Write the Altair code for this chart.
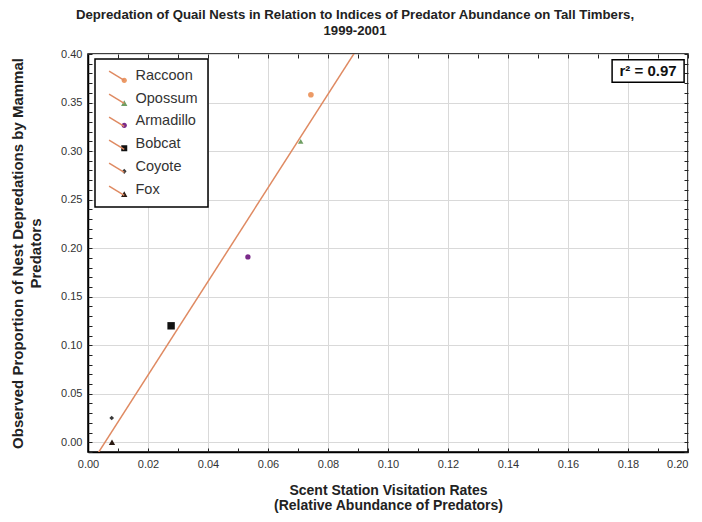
import altair as alt
import pandas as pd

# ---- data ----
species = ["Raccoon", "Opossum", "Armadillo", "Bobcat", "Coyote", "Fox"]
visitation = [0.0743, 0.0709, 0.0533, 0.0277, 0.0079, 0.0080]
depredation = [0.358, 0.310, 0.191, 0.120, 0.025, 0.000]
colors = ["#ec9a66", "#6f9e63", "#7a2a8a", "#111111", "#3a3a3a", "#2a1a12"]
plot_shapes = ["circle", "triangle-up", "circle", "square", "diamond", "triangle-up"]
marker_sizes = [32, 30, 28, 55, 22, 40]

x_ticks = [0.00, 0.02, 0.04, 0.06, 0.08, 0.10, 0.12, 0.14, 0.16, 0.18, 0.20]
y_ticks = [0.00, 0.05, 0.10, 0.15, 0.20, 0.25, 0.30, 0.35, 0.40]
x_minor = [round(i * 0.01, 2) for i in range(0, 21)]
y_minor = [round(i * 0.01, 2) for i in range(-1, 41)]

r2_text = ["r\u00b2 = 0.97"]
r2_x = [0.1867]
r2_y = [0.3825]
r2_box_x = [0.1747]
r2_box_x2 = [0.1987]
r2_box_y = [0.371]
r2_box_y2 = [0.394]

line_color = "#df8a62"
FONT = "Liberation Sans"

df = pd.DataFrame({"species": species, "x": visitation, "y": depredation,
                   "msize": marker_sizes})

# legend symbol paths (diagonal line + marker), unit coords
diag = "M-4.8,-1.6L0,1.3"
marker_paths = {
    "circle": "M0.85,1.3A0.85,0.85 0 1,1 -0.85,1.3A0.85,0.85 0 1,1 0.85,1.3Z",
    "square": "M-0.95,0.35L0.95,0.35L0.95,2.25L-0.95,2.25Z",
    "triangle-up": "M0,0.3L1.0,2.1L-1.0,2.1Z",
    "diamond": "M0,0.45L0.75,1.3L0,2.15L-0.75,1.3Z",
}
legend_paths = [diag + marker_paths[s] for s in plot_shapes]
line_paths = [diag for _ in species]

xscale = alt.Scale(domain=[0, 0.20], nice=False, zero=False)
yscale = alt.Scale(domain=[-0.01, 0.40], nice=False, zero=False)

xaxis = alt.Axis(values=x_ticks, format=".2f", title=["Scent Station Visitation Rates",
                 "(Relative Abundance of Predators)"], titleBaseline="top", titleY=31.5,
                 titleLineHeight=14.5, titleFontSize=14, labelPadding=6, labelFlush=False,
                 labelAlign={"condition": {"test": "datum.value >= 0.199", "value": "right"},
                             "value": "center"})
yaxis = alt.Axis(values=y_ticks, format=".2f", title=["Observed Proportion of Nest Depredations by Mammal",
                 "Predators"], titleBaseline="middle", titleX=-71, titleY=199,
                 titleLineHeight=18, labelPadding=6, titleAngle=270, labelFlush=False)

base = alt.Chart(df)

points = base.mark_point(filled=True, opacity=1).encode(
    x=alt.X("x:Q", scale=xscale, axis=xaxis),
    y=alt.Y("y:Q", scale=yscale, axis=yaxis),
    shape=alt.Shape("species:N", scale=alt.Scale(domain=species, range=plot_shapes), legend=None),
    color=alt.Color("species:N", scale=alt.Scale(domain=species, range=colors), legend=None),
    size=alt.Size("msize:Q", scale=None, legend=None),
)

reg = base.transform_regression("x", "y", extent=[0.0, 0.1]).mark_line(
    color=line_color, strokeWidth=1.5, clip=True
).encode(x="x:Q", y="y:Q")

r2df = pd.DataFrame({"t": r2_text, "x": r2_x, "y": r2_y, "bx": r2_box_x,
                     "bx2": r2_box_x2, "by": r2_box_y, "by2": r2_box_y2})
r2box = alt.Chart(r2df).mark_rect(fill="white", stroke="black", strokeWidth=1.5).encode(
    x="bx:Q", x2="bx2", y="by:Q", y2="by2")
r2lab = alt.Chart(r2df).mark_text(font=FONT, fontSize=15, fontWeight="bold", color="#111").encode(
    x="x:Q", y="y:Q", text="t:N")

common_leg = dict(orient="none", legendX=7, legendY=5, padding=10, title=None,
                  symbolSize=40, labelFontSize=14.5, labelFont=FONT, labelOffset=4,
                  symbolOffset=12, rowPadding=7)

leg_a = alt.Legend(strokeColor="black", fillColor="white", labelColor="#333", **common_leg)
leg_b = alt.Legend(labelColor="#333", labelExpr="' '", **common_leg)

legend_markers = base.transform_filter("datum.y > 1").mark_point(filled=True, opacity=1).encode(
    x="x:Q", y="y:Q",
    shape=alt.Shape("species:N", scale=alt.Scale(domain=species, range=legend_paths), legend=leg_a),
    color=alt.Color("species:N", scale=alt.Scale(domain=species, range=colors), legend=leg_a),
)

legend_lines = base.transform_filter("datum.y > 1").mark_point(
    filled=False, opacity=1, color=line_color, strokeWidth=1.3).encode(
    x="x:Q", y="y:Q",
    shape=alt.Shape("species:N", scale=alt.Scale(domain=species, range=line_paths), legend=leg_b),
)

main = alt.layer(points, reg, r2box, r2lab, legend_markers, legend_lines).resolve_scale(
    shape="independent", color="independent"
).resolve_legend(shape="independent", color="independent")

# inward minor ticks on all four sides of the frame
tick_common = dict(labels=False, domain=False, grid=False, title=None, ticks=True,
                   tickSize=4, tickColor="#222", tickWidth=1, offset=-4)
ticks_lb = base.transform_filter("datum.y > 1").mark_point(opacity=0).encode(
    x=alt.X("x:Q", scale=xscale, axis=alt.Axis(orient="bottom", values=x_minor, **tick_common)),
    y=alt.Y("y:Q", scale=yscale, axis=alt.Axis(orient="left", values=y_minor, **tick_common)),
)
ticks_rt = base.transform_filter("datum.y > 1").mark_point(opacity=0).encode(
    x=alt.X("x:Q", scale=xscale, axis=alt.Axis(orient="top", values=x_minor, **tick_common)),
    y=alt.Y("y:Q", scale=yscale, axis=alt.Axis(orient="right", values=y_minor, **tick_common)),
)

chart = alt.layer(main, ticks_lb, ticks_rt).resolve_scale(
    x="independent", y="independent"
).properties(
    width=600, height=398,
    autosize=alt.AutoSizeParams(type="none"),
    padding={"left": 80, "top": 46, "right": 6, "bottom": 62},
    title=alt.TitleParams(
        ["Depredation of Quail Nests in Relation to Indices of Predator Abundance on Tall Timbers,",
         "1999-2001"],
        font=FONT, fontSize=13.2, fontWeight="bold", color="#222", anchor="middle",
        dx=-33, offset=10, lineHeight=16),
).configure_view(stroke="black", strokeWidth=1.5).configure_axis(
    labelFont=FONT, labelFontSize=11, labelColor="#333", titleFont=FONT,
    titleFontSize=15, titleFontWeight="bold", titleColor="#222",
    gridColor="#d9d9d9", gridWidth=1, domainColor="black", domainWidth=1.5,
    ticks=False,
).configure_legend(strokeWidth=1.5)

chart.save("out.html", embed_options={"renderer": "svg", "actions": False})
